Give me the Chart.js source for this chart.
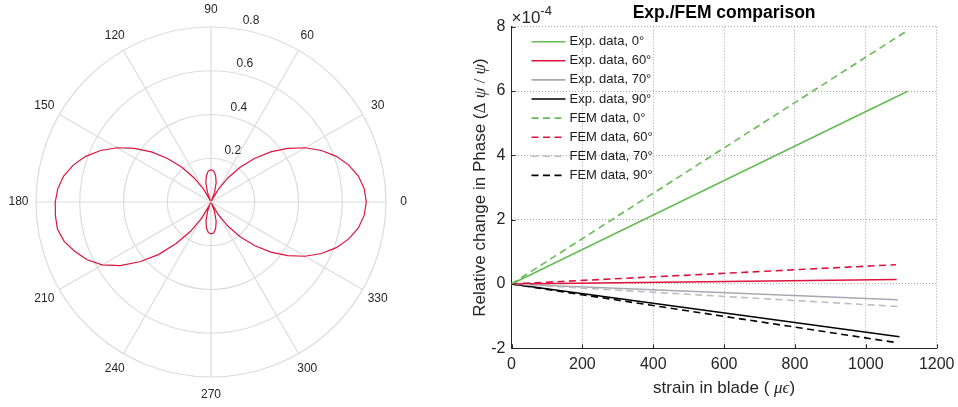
<!DOCTYPE html>
<html>
<head>
<meta charset="utf-8">
<script src="https://cdn.jsdelivr.net/npm/chart.js@4.4.1/dist/chart.umd.min.js"></script>
<style>
  html, body { margin: 0; padding: 0; background: #ffffff; }
  body { width: 958px; height: 407px; position: relative; overflow: hidden; }
  #polar { position: absolute; left: 0; top: 0; }
  #lines { position: absolute; left: 460px; top: 0; }
</style>
</head>
<body>
<canvas id="polar" width="420" height="407"></canvas>
<canvas id="lines" width="498" height="407"></canvas>
<script>
const SANS = "'Liberation Sans', Arial, Helvetica, sans-serif";
const SERIF = "'Liberation Serif', 'DejaVu Serif', 'Times New Roman', serif";

// ---------------- Polar plot data ----------------
const polarAngles = [0, 5, 10, 15, 20, 25, 30, 35, 40, 45, 50, 55, 60, 65, 70, 75, 80, 85,
  90, 95, 100, 105, 110, 115, 120, 125, 130, 135, 140, 145, 150, 155, 160, 165, 170, 175,
  180, 185, 190, 195, 200, 205, 210, 215, 220, 225, 230, 235, 240, 245, 250, 255, 260, 265,
  270, 275, 280, 285, 290, 295, 300, 305, 310, 315, 320, 325, 330, 335, 340, 345, 350, 355];
const polarRadius = [0.710, 0.703, 0.684, 0.652, 0.610, 0.557, 0.496, 0.428, 0.356, 0.281, 0.207, 0.134, 0.067, 0.006, 0.048, 0.091, 0.122, 0.142,
  0.148, 0.142, 0.122, 0.091, 0.048, 0.006, 0.067, 0.134, 0.207, 0.281, 0.356, 0.428, 0.496, 0.557, 0.610, 0.652, 0.684, 0.703,
  0.712, 0.714, 0.713, 0.695, 0.662, 0.625, 0.575, 0.507, 0.425, 0.340, 0.248, 0.165, 0.085, 0.015, 0.045, 0.088, 0.121, 0.140,
  0.146, 0.142, 0.122, 0.091, 0.048, 0.006, 0.067, 0.134, 0.207, 0.281, 0.356, 0.428, 0.496, 0.557, 0.610, 0.652, 0.684, 0.703];
const polarAngleTicks = [0, 30, 60, 90, 120, 150, 180, 210, 240, 270, 300, 330];
const polarRadiusTicks = [0.2, 0.4, 0.6, 0.8];

// ---------------- Line chart data (phase in units of 1e-4) ----------------
const strainTicks = [0, 200, 400, 600, 800, 1000, 1200];
const phaseTicks = [-2, 0, 2, 4, 6, 8];
const phaseExponent = '-4';
const seriesLabels = ['Exp. data, 0°', 'Exp. data, 60°', 'Exp. data, 70°', 'Exp. data, 90°',
  'FEM data, 0°', 'FEM data, 60°', 'FEM data, 70°', 'FEM data, 90°'];
const exp0Strain = [0, 1118];  const exp0Phase = [0, 5.99];
const exp60Strain = [0, 1087]; const exp60Phase = [0, 0.14];
const exp70Strain = [0, 1090]; const exp70Phase = [0, -0.49];
const exp90Strain = [0, 1095]; const exp90Phase = [0, -1.64];
const fem0Strain = [0, 1113];  const fem0Phase = [0, 7.85];
const fem60Strain = [0, 1085]; const fem60Phase = [0, 0.60];
const fem70Strain = [0, 1090]; const fem70Phase = [0, -0.70];
const fem90Strain = [0, 1085]; const fem90Phase = [0, -1.82];

// ---------------- Polar chart (radar, counter-clockwise from the right) ----------------
const n = polarAngles.length;
const cwOrder = polarAngles.map((_, i) => (n - i) % n);
const radarLabels = cwOrder.map(k => polarAngles[k]);
const radarData = cwOrder.map(k => polarRadius[k]);
const GRID = '#dcdcdc';

const polarTextPlugin = {
  id: 'polarText',
  afterDraw(chart) {
    const s = chart.scales.r;
    const ctx = chart.ctx;
    ctx.save();
    ctx.font = '12px ' + SANS;
    ctx.fillStyle = '#262626';
    ctx.textAlign = 'center';
    ctx.textBaseline = 'middle';
    const labelDist = s.drawingArea * 1.1;
    polarAngleTicks.forEach(a => {
      const i = radarLabels.indexOf(a);
      const p = s.getPointPosition(i, labelDist);
      ctx.fillText(String(a), p.x, p.y);
    });
    ctx.textAlign = 'left';
    ctx.textBaseline = 'alphabetic';
    const rad = 82 * Math.PI / 180;
    polarRadiusTicks.forEach(v => {
      const d = s.getDistanceFromCenterForValue(v);
      ctx.fillText(String(v), s.xCenter + d * Math.cos(rad) + 7.3, s.yCenter - d * Math.sin(rad) - 4.7);
    });
    ctx.restore();
  }
};

new Chart(document.getElementById('polar'), {
  type: 'radar',
  data: {
    labels: radarLabels,
    datasets: [{
      data: radarData,
      borderColor: '#DC143C',
      borderWidth: 1.2,
      pointRadius: 0,
      pointHoverRadius: 0,
      fill: false,
      tension: 0
    }]
  },
  options: {
    responsive: false,
    animation: false,
    events: [],
    layout: { padding: { left: 35.5, top: 26.5, right: 33.5, bottom: 29.5 } },
    plugins: { legend: { display: false }, tooltip: { enabled: false }, title: { display: false } },
    scales: {
      r: {
        min: 0,
        max: 0.8,
        startAngle: 90,
        ticks: { display: false, stepSize: 0.2 },
        pointLabels: { display: false },
        grid: { circular: true, color: GRID, lineWidth: 1.2 },
        angleLines: {
          display: true,
          color: GRID,
          lineWidth: (c) => (radarLabels[c.index] % 30 === 0 ? 1.2 : 0)
        }
      }
    }
  },
  plugins: [polarTextPlugin]
});

// ---------------- Line chart ----------------
const GREEN = '#66BB55';
const RED = '#DC143C';
const GRAY = '#A8A8B0';
const LIGHTGRAY = '#BDBDC3';
const BLACK = '#000000';
const DASH = [7, 4.5];

const seriesDefs = [
  { x: exp0Strain, y: exp0Phase, color: GREEN, dash: [], order: 1 },
  { x: exp60Strain, y: exp60Phase, color: RED, dash: [], order: 1 },
  { x: exp70Strain, y: exp70Phase, color: GRAY, dash: [], order: 1 },
  { x: exp90Strain, y: exp90Phase, color: BLACK, dash: [], order: 1 },
  { x: fem0Strain, y: fem0Phase, color: GREEN, dash: DASH, order: 0 },
  { x: fem60Strain, y: fem60Phase, color: RED, dash: DASH, order: 0 },
  { x: fem70Strain, y: fem70Phase, color: LIGHTGRAY, dash: DASH, order: 0 },
  { x: fem90Strain, y: fem90Phase, color: BLACK, dash: DASH, order: 0 }
];

function drawRich(ctx, parts, cx, baseline) {
  let total = 0;
  parts.forEach(p => { ctx.font = p.f; p.w = ctx.measureText(p.t).width; total += p.w; });
  let x = cx - total / 2;
  parts.forEach(p => { ctx.font = p.f; ctx.fillText(p.t, x, baseline); x += p.w; });
}

const lineTextPlugin = {
  id: 'lineText',
  afterDraw(chart) {
    const ctx = chart.ctx;
    const a = chart.chartArea;
    const xs = chart.scales.x, ys = chart.scales.y;
    ctx.save();
    // inward ticks
    ctx.strokeStyle = '#262626';
    ctx.lineWidth = 1;
    ctx.beginPath();
    strainTicks.forEach(v => {
      const px = Math.round(xs.getPixelForValue(v)) + 0.5;
      ctx.moveTo(px, a.bottom); ctx.lineTo(px, a.bottom - 4);
    });
    phaseTicks.forEach(v => {
      const py = Math.round(ys.getPixelForValue(v)) + 0.5;
      ctx.moveTo(a.left, py); ctx.lineTo(a.left + 4, py);
    });
    ctx.stroke();

    // legend
    ctx.textAlign = 'left';
    ctx.textBaseline = 'middle';
    ctx.font = '13px ' + SANS;
    chart.data.datasets.forEach((ds, i) => {
      const y = 41.7 + i * 19.1;
      ctx.save();
      ctx.strokeStyle = ds.borderColor;
      ctx.lineWidth = ds.borderWidth;
      ctx.setLineDash(ds.borderDash || []);
      ctx.beginPath();
      ctx.moveTo(a.left + 20, y); ctx.lineTo(a.left + 54, y);
      ctx.stroke();
      ctx.restore();
      ctx.fillStyle = '#1a1a1a';
      ctx.fillText(ds.label, a.left + 58, y);
    });

    // exponent
    ctx.textBaseline = 'alphabetic';
    ctx.fillStyle = '#262626';
    ctx.font = '17px ' + SANS;
    const baseX = a.left;
    ctx.fillText('×10', baseX, 23.3);
    const w = ctx.measureText('×10').width;
    ctx.font = '13px ' + SANS;
    ctx.fillText(phaseExponent, baseX + w, 15);

    // x title
    ctx.fillStyle = '#262626';
    drawRich(ctx, [
      { t: 'strain in blade ( ', f: '17px ' + SANS },
      { t: 'μϵ', f: 'italic 17px ' + SERIF },
      { t: ')', f: '17px ' + SANS }
    ], (a.left + a.right) / 2, 393);

    // y title
    ctx.save();
    ctx.translate(25, (a.top + a.bottom) / 2);
    ctx.rotate(-Math.PI / 2);
    drawRich(ctx, [
      { t: 'Relative change in Phase (', f: '17px ' + SANS },
      { t: 'Δ ', f: '17px ' + SERIF },
      { t: 'ψ', f: 'italic 17px ' + SERIF },
      { t: ' / ', f: '17px ' + SERIF },
      { t: 'ψ', f: 'italic 17px ' + SERIF },
      { t: ')', f: '17px ' + SANS }
    ], 0, 0);
    ctx.restore();
    ctx.restore();
  }
};

new Chart(document.getElementById('lines'), {
  type: 'line',
  data: {
    datasets: seriesDefs.map((s, i) => ({
      label: seriesLabels[i],
      data: s.x.map((x, k) => ({ x: x, y: s.y[k] })),
      borderColor: s.color,
      backgroundColor: s.color,
      borderWidth: 1.6,
      borderDash: s.dash,
      pointRadius: 0,
      pointHoverRadius: 0,
      fill: false,
      tension: 0,
      order: s.order
    }))
  },
  options: {
    responsive: false,
    animation: false,
    events: [],
    layout: { padding: { left: 0, top: 0, right: 21.3, bottom: 0 } },
    plugins: {
      legend: { display: false },
      tooltip: { enabled: false },
      title: {
        display: true,
        text: 'Exp./FEM comparison',
        fullSize: false,
        color: '#000000',
        font: { family: SANS, size: 17.5, weight: 'bold', lineHeight: 1.2 },
        padding: { top: 3, bottom: 2.7 }
      }
    },
    scales: {
      x: {
        type: 'linear',
        min: strainTicks[0],
        max: strainTicks[strainTicks.length - 1],
        afterFit: (s) => { s.height = 58.7; },
        afterBuildTicks: (s) => { s.ticks = strainTicks.map(v => ({ value: v })); },
        ticks: { font: { family: SANS, size: 16 }, color: '#262626', padding: 0, maxRotation: 0, autoSkip: false,
                 callback: (v) => String(v) },
        grid: { color: '#a6a6a6', lineWidth: 1, drawTicks: true, tickLength: 7.1, tickColor: 'rgba(0,0,0,0)' },
        border: { display: true, color: '#262626', width: 1, dash: [1, 2] }
      },
      y: {
        type: 'linear',
        min: phaseTicks[0],
        max: phaseTicks[phaseTicks.length - 1],
        afterFit: (s) => { s.width = 51.5; },
        afterBuildTicks: (s) => { s.ticks = phaseTicks.map(v => ({ value: v })); },
        ticks: { font: { family: SANS, size: 16 }, color: '#262626', padding: 6, autoSkip: false,
                 callback: (v) => String(v) },
        grid: { color: '#a6a6a6', lineWidth: 1, drawTicks: false },
        border: { display: true, color: '#262626', width: 1, dash: [1, 2] }
      }
    }
  },
  plugins: [lineTextPlugin]
});
</script>
</body>
</html>
